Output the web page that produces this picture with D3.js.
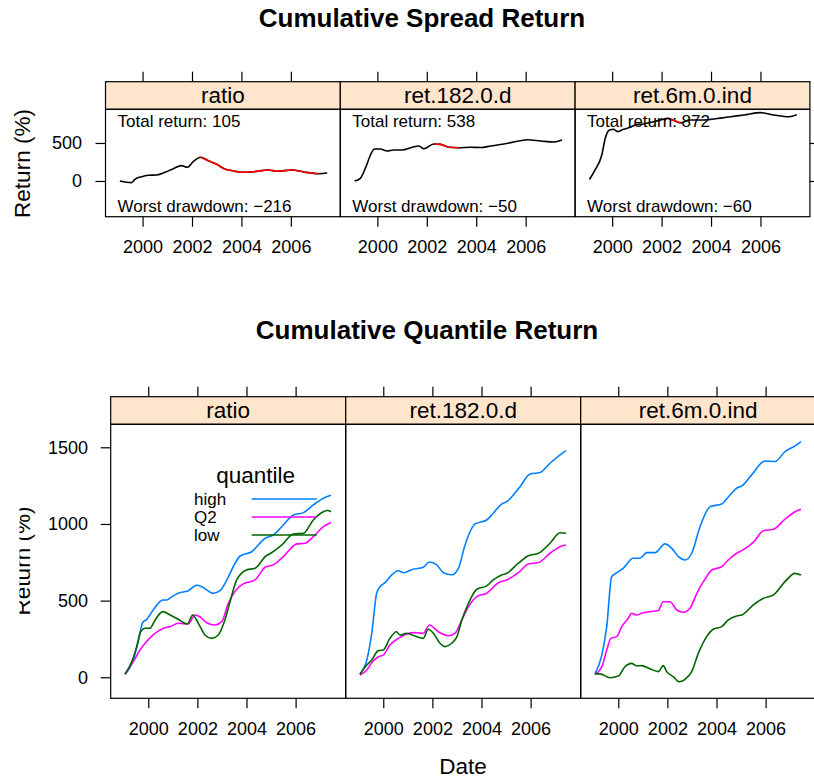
<!DOCTYPE html>
<html>
<head>
<meta charset="utf-8">
<script src="https://cdn.jsdelivr.net/npm/d3@7"></script>
<style>
  body { margin: 0; background: #fff; }
  svg { display: block; }
  text { font-family: "Liberation Sans", Arial, Helvetica, sans-serif; fill: #000; }
</style>
</head>
<body>
<svg id="chart" width="814" height="780"></svg>
<script>
// ---- data -------------------------------------------------------------
const panelNames = ["ratio", "ret.182.0.d", "ret.6m.0.ind"];
const yearTicks = [2000, 2002, 2004, 2006];
const spreadTicks = [0, 500];
const quantileTicks = [0, 500, 1000, 1500];
const quantileNames = ["high", "Q2", "low"];

// cumulative spread return, [year, return %]
const spreadRatio = [[1999.08,0],[1999.35,-17],[1999.55,-22],[1999.69,22],[1999.96,57],[2000.23,75],[2000.57,79],[2000.91,114],[2001.24,162],[2001.58,202],[2001.81,180],[2002.05,254],[2002.35,312],[2002.66,267],[2003.0,219],[2003.3,162],[2003.68,132],[2004.02,114],[2004.49,122],[2005.1,145],[2005.44,128],[2006.05,145],[2006.52,118],[2007.12,96],[2007.47,105]];
const spreadRet182 = [[1999.08,0],[1999.31,35],[1999.54,189],[1999.72,342],[1999.88,421],[2000.12,421],[2000.39,395],[2000.66,408],[2001.0,408],[2001.41,443],[2001.68,461],[2001.88,425],[2002.28,487],[2002.56,482],[2002.89,443],[2003.3,437],[2003.77,443],[2004.18,440],[2004.59,461],[2005.12,487],[2005.67,522],[2006.07,543],[2006.61,526],[2007.15,513],[2007.47,538]];
const spreadRet6m = [[1999.08,20],[1999.31,145],[1999.58,342],[1999.72,561],[1999.89,671],[2000.05,680],[2000.22,649],[2000.46,680],[2000.73,706],[2000.93,737],[2001.27,750],[2001.68,780],[2002.08,812],[2002.24,825],[2002.5,795],[2002.76,765],[2003.17,803],[2003.7,803],[2004.25,822],[2004.79,846],[2005.33,868],[2006.0,899],[2006.55,868],[2007.15,845],[2007.47,872]];

// cumulative quantile return, [year, return %]
const highRatio = [[1999.05,20],[1999.39,113],[1999.6,243],[1999.77,356],[1999.94,378],[2000.2,439],[2000.59,504],[2000.75,504],[2000.96,526],[2001.22,548],[2001.63,565],[2001.97,600],[2002.18,591],[2002.65,548],[2002.92,565],[2003.2,635],[2003.46,721],[2003.74,791],[2004.21,819],[2004.76,907],[2005.09,928],[2005.44,982],[2005.91,1059],[2006.32,1074],[2006.72,1124],[2007.13,1168],[2007.44,1187]];
const q2Ratio = [[1999.05,20],[1999.39,102],[1999.66,178],[1999.87,222],[2000.2,276],[2000.62,320],[2000.89,330],[2001.22,352],[2001.63,348],[2001.9,406],[2002.1,395],[2002.38,356],[2002.72,341],[2002.99,363],[2003.26,483],[2003.6,574],[2003.87,609],[2004.35,635],[2004.76,718],[2005.09,733],[2005.5,787],[2006.05,870],[2006.38,874],[2006.72,917],[2007.13,982],[2007.44,1009]];
const lowRatio = [[1999.05,20],[1999.33,102],[1999.53,200],[1999.69,297],[1999.87,320],[2000.07,320],[2000.28,374],[2000.59,428],[2000.89,406],[2001.22,378],[2001.59,348],[2001.81,406],[2002.04,352],[2002.31,276],[2002.58,254],[2002.85,276],[2003.12,374],[2003.33,493],[2003.6,635],[2004.0,700],[2004.35,711],[2004.76,787],[2005.09,819],[2005.44,863],[2005.91,935],[2006.32,939],[2006.72,1026],[2007.13,1080],[2007.3,1088],[2007.44,1080]];

const highRet182 = [[1999.05,22],[1999.33,113],[1999.53,287],[1999.73,548],[1999.87,591],[2000.07,617],[2000.34,667],[2000.61,695],[2000.82,682],[2001.22,705],[2001.63,718],[2001.88,752],[2002.18,733],[2002.45,682],[2002.79,669],[2003.06,711],[2003.33,863],[2003.74,1000],[2004.21,1026],[2004.48,1070],[2004.82,1130],[2005.03,1146],[2005.57,1243],[2005.98,1326],[2006.38,1335],[2006.79,1396],[2007.2,1450],[2007.44,1478]];
const q2Ret182 = [[1999.05,15],[1999.33,48],[1999.53,95],[1999.8,134],[2000.0,145],[2000.27,211],[2000.61,254],[2000.95,282],[2001.29,291],[2001.63,287],[2001.88,341],[2002.24,297],[2002.65,271],[2002.92,287],[2003.2,374],[2003.47,461],[2003.81,526],[2004.21,548],[2004.69,617],[2005.03,635],[2005.5,682],[2005.91,739],[2006.32,748],[2006.79,809],[2007.2,852],[2007.44,863]];
const lowRet182 = [[1999.05,20],[1999.33,80],[1999.53,113],[1999.8,174],[2000.0,178],[2000.27,254],[2000.54,297],[2000.68,276],[2000.95,287],[2001.29,269],[2001.63,254],[2001.83,313],[2002.04,287],[2002.31,222],[2002.51,200],[2002.79,222],[2003.0,265],[2003.2,374],[2003.47,483],[2003.81,574],[2004.21,596],[2004.48,635],[2004.82,667],[2005.03,678],[2005.5,744],[2005.91,793],[2006.32,809],[2006.79,874],[2007.2,943],[2007.44,939]];

const highRet6m = [[1999.05,22],[1999.33,145],[1999.53,330],[1999.73,656],[1999.94,682],[2000.2,711],[2000.61,776],[2000.88,776],[2001.16,813],[2001.5,813],[2001.9,870],[2002.18,841],[2002.45,787],[2002.72,765],[2002.99,809],[2003.33,982],[2003.74,1113],[2004.21,1130],[2004.55,1189],[2004.82,1233],[2005.03,1248],[2005.43,1320],[2005.98,1411],[2006.38,1407],[2006.79,1472],[2007.2,1509],[2007.44,1537]];
const q2Ret6m = [[1999.05,20],[1999.33,69],[1999.53,178],[1999.7,254],[1999.94,265],[2000.14,330],[2000.41,385],[2000.54,417],[2000.75,406],[2000.95,417],[2001.29,428],[2001.63,435],[2001.83,493],[2002.11,493],[2002.38,439],[2002.65,424],[2002.92,450],[2003.2,548],[2003.47,624],[2003.81,700],[2004.21,721],[2004.48,765],[2004.82,809],[2005.03,826],[2005.5,880],[2005.91,956],[2006.32,965],[2006.79,1031],[2007.2,1080],[2007.44,1096]];
const lowRet6m = [[1999.05,22],[1999.26,22],[1999.66,-3],[2000.0,8],[2000.27,69],[2000.54,91],[2000.75,74],[2000.95,76],[2001.29,56],[2001.63,37],[2001.83,76],[2001.97,37],[2002.24,4],[2002.47,-29],[2002.72,-13],[2002.99,37],[2003.26,156],[2003.6,265],[2003.87,313],[2004.21,330],[2004.48,374],[2004.82,400],[2005.03,406],[2005.5,472],[2005.91,515],[2006.32,537],[2006.79,624],[2007.2,678],[2007.44,667]];

const spreadSeries = [spreadRatio, spreadRet182, spreadRet6m];
const quantileSeries = [
  [highRatio, q2Ratio, lowRatio],
  [highRet182, q2Ret182, lowRet182],
  [highRet6m, q2Ret6m, lowRet6m]
];

// ---- styling ------------------------------------------------------------
const quantileColors = ["#0080ff", "#ff00ff", "#006400"];
const stripFill = "#ffe5cc";
const frameWidth = 1.2;
const svg = d3.select("#chart");
const defs = svg.append("defs");

// Draws one row of lattice panels and returns the per-panel scales.
function drawLattice(o) {
  const panelH = o.bottom - o.stripBottom;
  const stripH = o.stripBottom - o.stripTop;
  const out = [];
  panelNames.forEach((name, i) => {
    const px = o.left + i * o.width;
    const g = svg.append("g").attr("transform", `translate(${px},${o.stripBottom})`);
    const x = d3.scaleLinear().domain(o.xDomain).range([0, o.width]);
    const y = d3.scaleLinear().domain(o.yDomain).range([panelH, 0]);

    const clipId = `${o.id}-clip-${i}`;
    defs.append("clipPath").attr("id", clipId)
      .append("rect").attr("width", o.width).attr("height", panelH);
    const body = g.append("g").attr("clip-path", `url(#${clipId})`);

    // strip
    g.append("rect").attr("x", 0).attr("y", -stripH).attr("width", o.width).attr("height", stripH)
      .attr("fill", stripFill).attr("stroke", "#000").attr("stroke-width", frameWidth);
    g.append("text").attr("x", o.width / 2).attr("y", -stripH / 2 + 7.8)
      .attr("text-anchor", "middle").attr("font-size", 22.5).text(name);

    // axes
    const bottomAxis = g.append("g").attr("transform", `translate(0,${panelH})`)
      .call(d3.axisBottom(x).tickValues(yearTicks).tickSize(10).tickPadding(13.5).tickFormat(d3.format("d")));
    const topAxis = g.append("g").attr("transform", `translate(0,${-stripH})`)
      .call(d3.axisTop(x).tickValues(yearTicks).tickSize(10).tickFormat(""));
    const axes = [bottomAxis, topAxis];
    if (i === 0) {
      axes.push(g.append("g")
        .call(d3.axisLeft(y).tickValues(o.yTicks).tickSize(10).tickPadding(o.yPad).tickFormat(d3.format("d"))));
    }
    if (i === panelNames.length - 1) {
      axes.push(g.append("g").attr("transform", `translate(${o.width},0)`)
        .call(d3.axisRight(y).tickValues(o.yTicks).tickSize(10).tickFormat("")));
    }
    axes.forEach(a => {
      a.attr("font-family", null).attr("font-size", null);
      a.select(".domain").remove();
      a.selectAll(".tick line").attr("stroke", "#000").attr("stroke-width", frameWidth);
      a.selectAll(".tick text").attr("font-size", 18).attr("fill", "#000");
    });

    out.push({ g, body, x, y, panelH });
  });
  // frames drawn last so they sit on top of the lines
  out.forEach(p => {
    p.g.append("rect").attr("width", o.width).attr("height", p.panelH)
      .attr("fill", "none").attr("stroke", "#000").attr("stroke-width", frameWidth);
  });
  return out;
}

const lineFor = (x, y) => d3.line().x(d => x(d[0])).y(d => y(d[1])).curve(d3.curveMonotoneX);
const minus = "\u2212";
const fmtSigned = v => (v < 0 ? minus : "") + Math.abs(Math.round(v));

// ---- chart 1: cumulative spread return ------------------------------------
svg.append("text").attr("x", 422).attr("y", 27).attr("text-anchor", "middle")
  .attr("font-size", 26).attr("font-weight", "bold").text("Cumulative Spread Return");

const spreadPanels = drawLattice({
  id: "spread", left: 105.5, width: 234.8,
  stripTop: 81.7, stripBottom: 109.3, bottom: 216.7,
  xDomain: [1998.5, 2008.0], yDomain: [-470, 943],
  yTicks: spreadTicks, yPad: 13.5
});

spreadPanels.forEach((p, i) => {
  const data = spreadSeries[i];
  // worst drawdown: largest fall from a running peak
  let peak = 0, worst = 0, from = 0, to = 0;
  data.forEach((d, k) => {
    if (d[1] > data[peak][1]) peak = k;
    const dd = d[1] - data[peak][1];
    if (dd < worst) { worst = dd; from = peak; to = k; }
  });
  const total = data[data.length - 1][1];

  p.g.append("text").attr("x", 12).attr("y", 17.5).attr("font-size", 17)
    .text(`Total return: ${fmtSigned(total)}`);
  p.g.append("text").attr("x", 12).attr("y", p.panelH - 4.5).attr("font-size", 17)
    .text(`Worst drawdown: ${fmtSigned(worst)}`);

  const line = lineFor(p.x, p.y);
  p.body.append("path").datum(data).attr("d", line)
    .attr("fill", "none").attr("stroke", "#000").attr("stroke-width", 1.6);
  p.body.append("path").datum(data.slice(from, to + 1)).attr("d", line)
    .attr("fill", "none").attr("stroke", "#ff0000").attr("stroke-width", 1.6);
});

svg.append("text").attr("transform", "translate(30,163.5) rotate(-90)")
  .attr("text-anchor", "middle").attr("font-size", 22.5).text("Return (%)");

// ---- chart 2: cumulative quantile return ----------------------------------
svg.append("text").attr("x", 427).attr("y", 339).attr("text-anchor", "middle")
  .attr("font-size", 26).attr("font-weight", "bold").text("Cumulative Quantile Return");

const quantilePanels = drawLattice({
  id: "quantile", left: 110.7, width: 235,
  stripTop: 396.7, stripBottom: 424.3, bottom: 698.3,
  xDomain: [1998.47, 2008.04], yDomain: [-137, 1650],
  yTicks: quantileTicks, yPad: 12.7
});

quantilePanels.forEach((p, i) => {
  const line = lineFor(p.x, p.y);
  quantileSeries[i].forEach((s, k) => {
    p.body.append("path").datum(s).attr("d", line)
      .attr("fill", "none").attr("stroke", quantileColors[k]).attr("stroke-width", 1.6);
  });
});

// legend inside the first panel
const legend = svg.append("g");
legend.append("text").attr("x", 255.7).attr("y", 483).attr("text-anchor", "middle")
  .attr("font-size", 22.5).text("quantile");
quantileNames.forEach((n, k) => {
  const cy = 499 + k * 18;
  legend.append("text").attr("x", 194).attr("y", cy + 6).attr("font-size", 17).text(n);
  legend.append("line").attr("x1", 251.7).attr("x2", 316.7).attr("y1", cy).attr("y2", cy)
    .attr("stroke", quantileColors[k]).attr("stroke-width", 1.6);
});

// axis titles; the left label is cut by the plot region's edge
defs.append("clipPath").attr("id", "ylab-clip")
  .append("rect").attr("x", 19.5).attr("y", 380).attr("width", 100).attr("height", 400);
svg.append("g").attr("clip-path", "url(#ylab-clip)")
  .append("text").attr("transform", "translate(30,561) rotate(-90)")
  .attr("text-anchor", "middle").attr("font-size", 22.5).text("Return (%)");

svg.append("text").attr("x", 463).attr("y", 774).attr("text-anchor", "middle")
  .attr("font-size", 22.5).text("Date");
</script>
</body>
</html>
